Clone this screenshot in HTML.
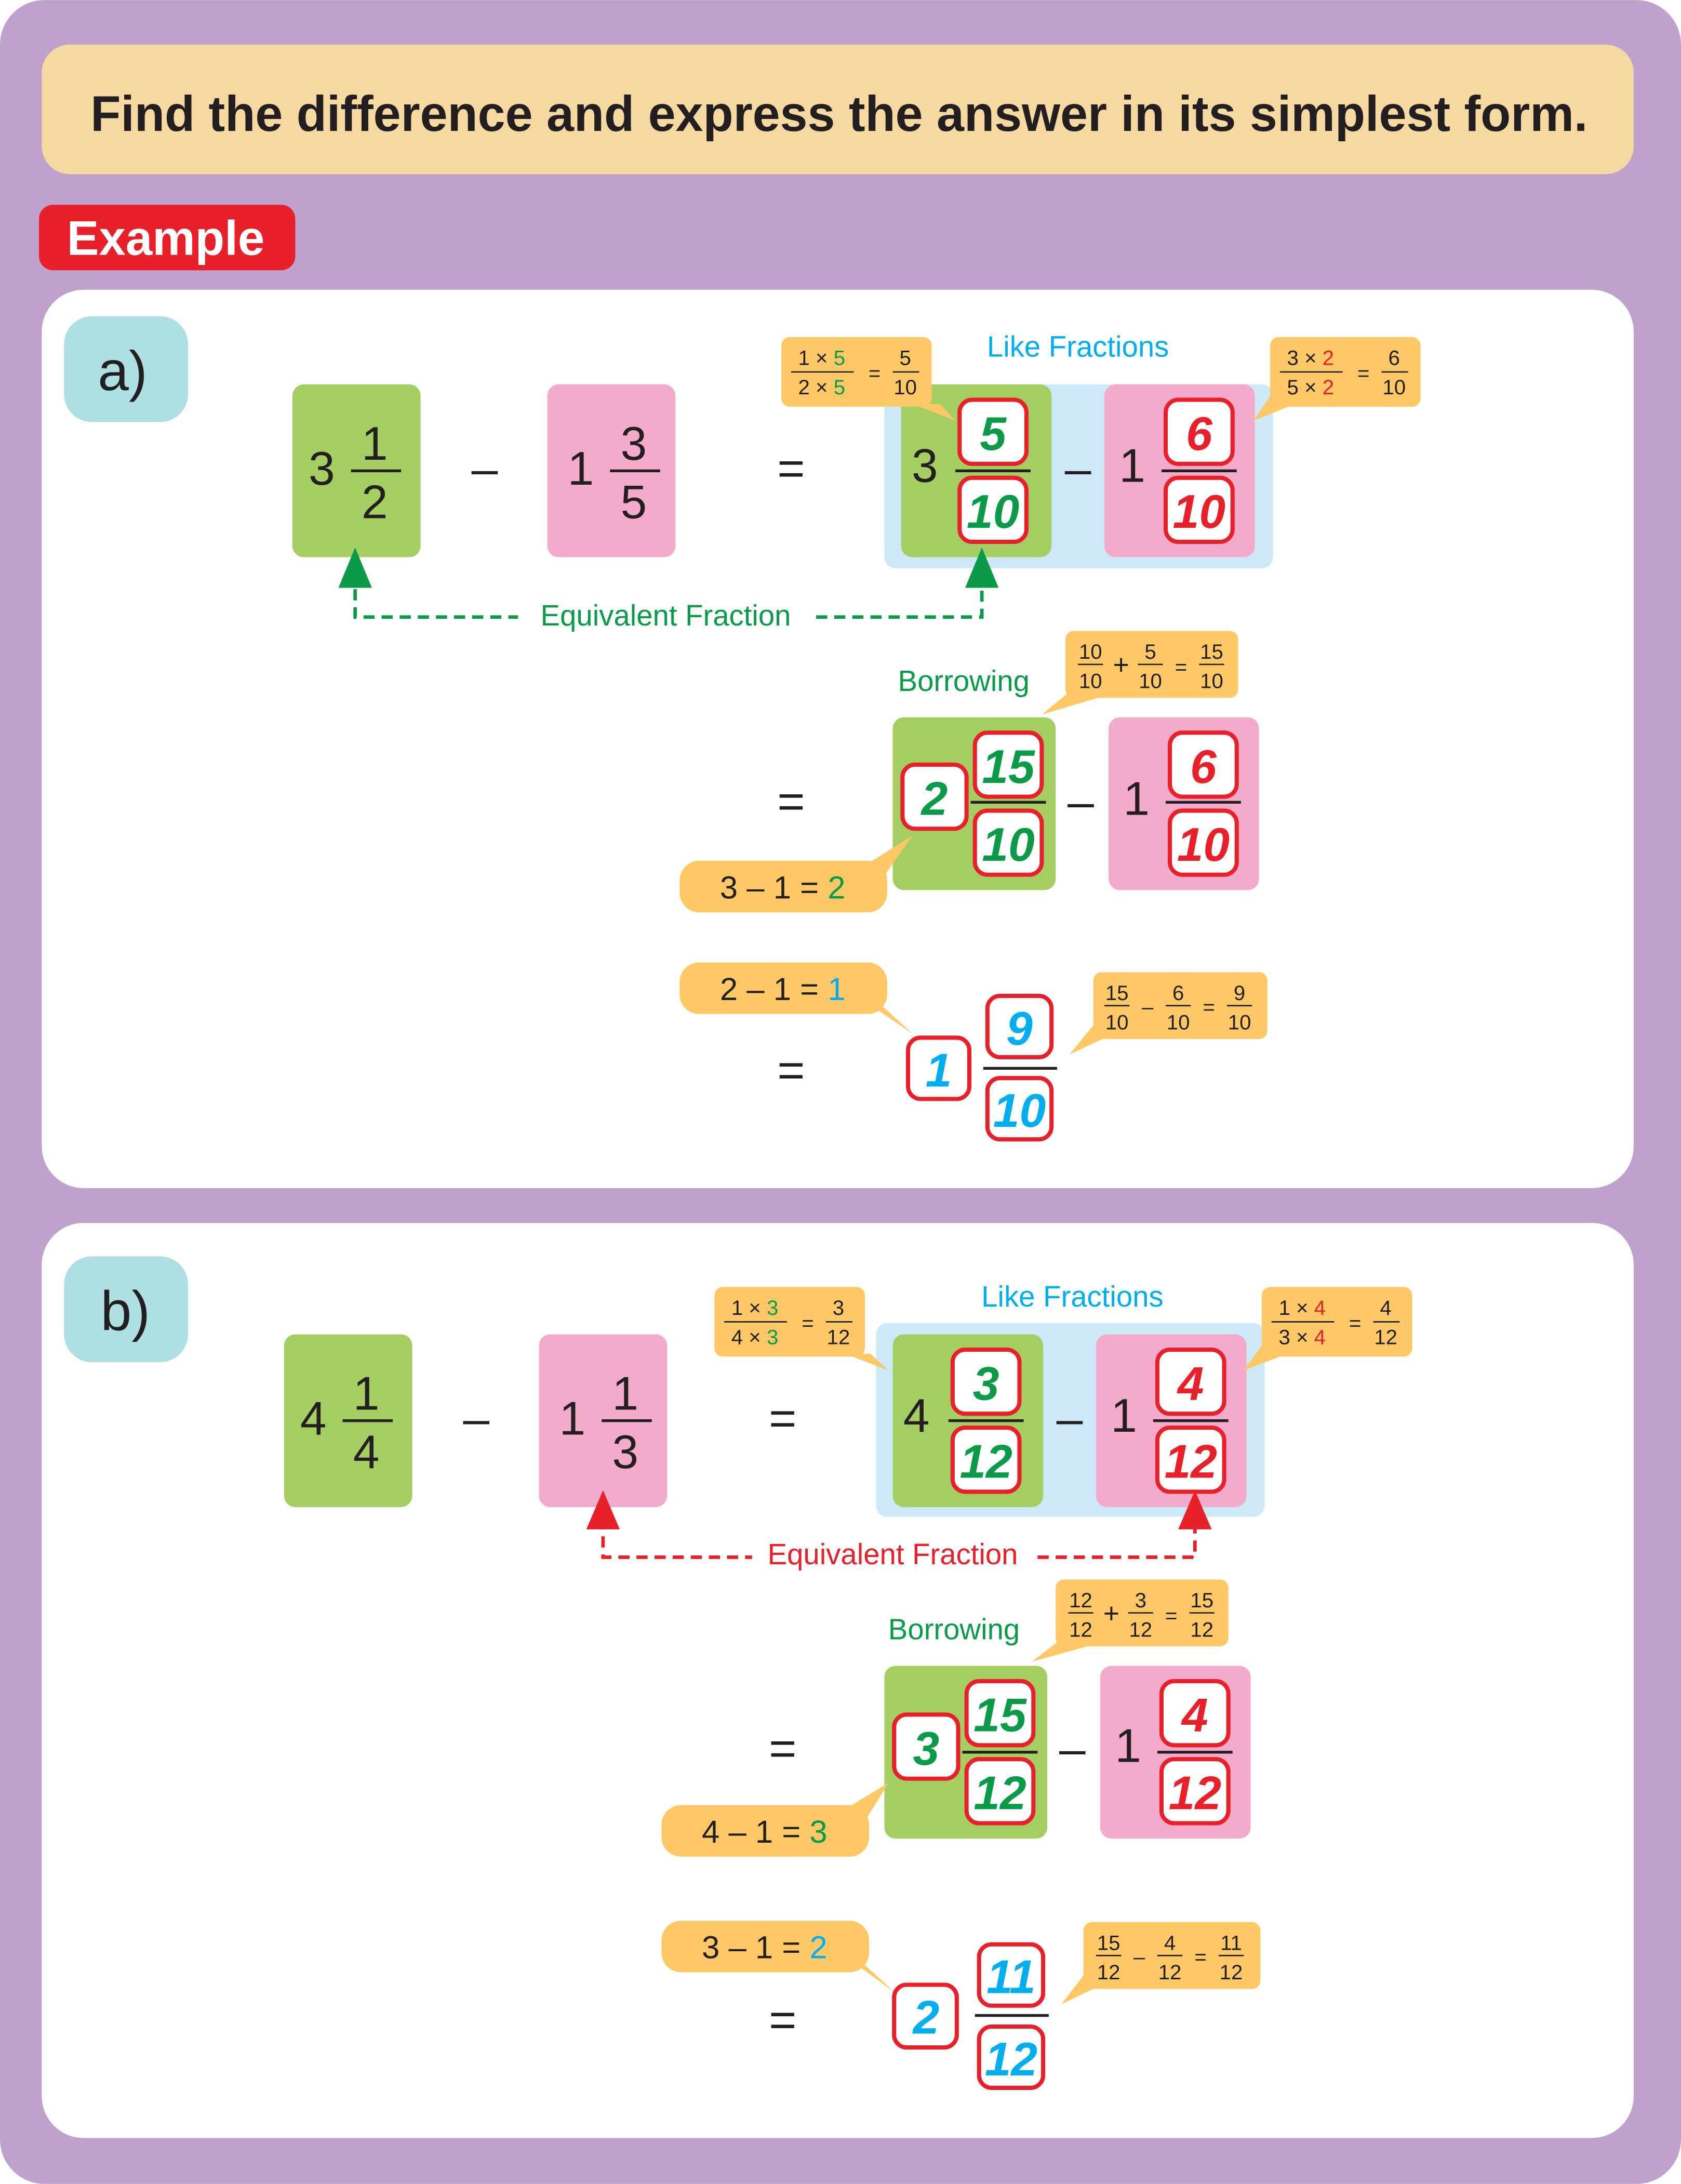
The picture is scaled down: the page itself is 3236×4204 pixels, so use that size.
<!DOCTYPE html>
<html><head><meta charset="utf-8"><style>
html,body{margin:0;padding:0;background:#fff}
svg{display:block}
text{font-family:"Liberation Sans",sans-serif}
.big{font-size:34px;fill:#231f20;text-anchor:middle}
.bx{font-size:34px;font-weight:bold;font-style:italic;text-anchor:middle}
.g{fill:#0a9a48}.r{fill:#e8202a}.c{fill:#00aeef}.k{fill:#231f20}
.sm{font-size:15px;text-anchor:middle;fill:#231f20}
.lbl{font-size:21px;text-anchor:middle}
.cl{font-size:23px;text-anchor:middle;fill:#231f20}
</style></head><body>
<svg width="3236" height="4204" viewBox="0 0 1207 1568" xmlns="http://www.w3.org/2000/svg">
<rect x="0" y="0" width="1207" height="1568" rx="32" fill="#bfa2cc"/>
<rect x="30" y="32" width="1143" height="93" rx="20" fill="#f5d9a0"/>
<text x="65" y="94" font-size="36" font-weight="bold" textLength="1075" lengthAdjust="spacingAndGlyphs" fill="#231f20">Find the difference and express the answer in its simplest form.</text>
<rect x="28" y="147" width="184" height="47" rx="10" fill="#e8202a"/>
<text x="48" y="183" font-size="35" font-weight="bold" textLength="142" lengthAdjust="spacingAndGlyphs" fill="#fff">Example</text>
<rect x="30" y="208" width="1143" height="645" rx="30" fill="#fff"/>
<rect x="30" y="878" width="1143" height="657" rx="30" fill="#fff"/>

<!-- ===== a ===== -->
<rect x="46" y="227" width="89" height="76" rx="20" fill="#aedfe3"/>
<text x="88" y="280" font-size="40" text-anchor="middle" fill="#231f20">a)</text>

<rect x="210" y="276" width="92" height="124" rx="8" fill="#a5ce62"/>
<text x="231" y="348" class="big">3</text>
<text x="269" y="330" class="big">1</text><line x1="252" y1="338" x2="288" y2="338" stroke="#231f20" stroke-width="2"/><text x="269" y="372" class="big">2</text>
<text x="348" y="348" class="big">–</text>
<rect x="393" y="276" width="92" height="124" rx="8" fill="#f4aacb"/>
<text x="417" y="348" class="big">1</text>
<text x="455" y="330" class="big">3</text><line x1="438" y1="338" x2="474" y2="338" stroke="#231f20" stroke-width="2"/><text x="455" y="372" class="big">5</text>
<text x="568" y="348" class="big">=</text>

<rect x="635" y="276" width="279" height="132" rx="8" fill="#cde9f8"/>
<rect x="647" y="276" width="108" height="124" rx="8" fill="#a5ce62"/>
<text x="664" y="346" class="big">3</text>
<rect x="689" y="287" width="48" height="46" rx="9" fill="#fff" stroke="#e8202a" stroke-width="3"/>
<text x="713" y="323" class="bx g">5</text>
<line x1="686" y1="338" x2="740" y2="338" stroke="#231f20" stroke-width="2"/>
<rect x="689" y="343" width="48" height="46" rx="9" fill="#fff" stroke="#e8202a" stroke-width="3"/>
<text x="713" y="379" class="bx g">10</text>
<text x="774" y="348" class="big">–</text>
<rect x="793" y="276" width="108" height="124" rx="8" fill="#f4aacb"/>
<text x="813" y="346" class="big">1</text>
<rect x="837" y="287" width="48" height="46" rx="9" fill="#fff" stroke="#e8202a" stroke-width="3"/>
<text x="861" y="323" class="bx r">6</text>
<line x1="834" y1="338" x2="888" y2="338" stroke="#231f20" stroke-width="2"/>
<rect x="837" y="343" width="48" height="46" rx="9" fill="#fff" stroke="#e8202a" stroke-width="3"/>
<text x="861" y="379" class="bx r">10</text>
<text x="774" y="256" class="lbl c">Like Fractions</text>

<polygon points="655,290 675,290 686,302" fill="#fdc865"/>
<rect x="561" y="242" width="108" height="50" rx="6" fill="#fdc865"/>
<text x="590" y="262" class="sm">1 × <tspan class="g">5</tspan></text><line x1="568" y1="267" x2="613" y2="267" stroke="#231f20"/><text x="590" y="283" class="sm">2 × <tspan class="g">5</tspan></text>
<text x="628" y="273" class="sm">=</text>
<text x="650" y="262" class="sm g">5</text><line x1="641" y1="267" x2="660" y2="267" stroke="#231f20"/><text x="650" y="283" class="sm g">10</text>

<polygon points="915,280 930,290 900,302" fill="#fdc865"/>
<rect x="912" y="242" width="108" height="50" rx="6" fill="#fdc865"/>
<text x="941" y="262" class="sm">3 × <tspan class="r">2</tspan></text><line x1="919" y1="267" x2="964" y2="267" stroke="#231f20"/><text x="941" y="283" class="sm">5 × <tspan class="r">2</tspan></text>
<text x="979" y="273" class="sm">=</text>
<text x="1001" y="262" class="sm r">6</text><line x1="992" y1="267" x2="1011" y2="267" stroke="#231f20"/><text x="1001" y="283" class="sm r">10</text>

<path d="M255,410 V443 H372 M586,443 H705 V410" fill="none" stroke="#0a9a48" stroke-width="2.5" stroke-dasharray="8,5"/>
<polygon points="255,393 243,422 267,422" fill="#0a9a48"/>
<polygon points="705,393 693,422 717,422" fill="#0a9a48"/>
<text x="478" y="449" class="lbl g">Equivalent Fraction</text>

<text x="692" y="496" class="lbl g">Borrowing</text>
<polygon points="770,495 795,499 748,513" fill="#fdc865"/>
<rect x="765" y="453" width="124" height="48" rx="6" fill="#fdc865"/>
<text x="783" y="473" class="sm g">10</text><line x1="774" y1="477" x2="792" y2="477" stroke="#231f20"/><text x="783" y="494" class="sm g">10</text>
<text x="805" y="484" font-size="20" text-anchor="middle" fill="#231f20">+</text>
<text x="826" y="473" class="sm g">5</text><line x1="817" y1="477" x2="835" y2="477" stroke="#231f20"/><text x="826" y="494" class="sm g">10</text>
<text x="848" y="484" class="sm">=</text>
<text x="870" y="473" class="sm g">15</text><line x1="861" y1="477" x2="879" y2="477" stroke="#231f20"/><text x="870" y="494" class="sm g">10</text>

<text x="568" y="587" class="big">=</text>
<rect x="641" y="515" width="117" height="124" rx="8" fill="#a5ce62"/>
<rect x="648" y="549" width="46" height="46" rx="9" fill="#fff" stroke="#e8202a" stroke-width="3"/>
<text x="671" y="585" class="bx g">2</text>
<rect x="700" y="526" width="48" height="46" rx="9" fill="#fff" stroke="#e8202a" stroke-width="3"/>
<text x="724" y="562" class="bx g">15</text>
<line x1="697" y1="576" x2="751" y2="576" stroke="#231f20" stroke-width="2"/>
<rect x="700" y="582" width="48" height="46" rx="9" fill="#fff" stroke="#e8202a" stroke-width="3"/>
<text x="724" y="618" class="bx g">10</text>
<text x="776" y="587" class="big">–</text>
<rect x="796" y="515" width="108" height="124" rx="8" fill="#f4aacb"/>
<text x="816" y="585" class="big">1</text>
<rect x="840" y="526" width="48" height="46" rx="9" fill="#fff" stroke="#e8202a" stroke-width="3"/>
<text x="864" y="562" class="bx r">6</text>
<line x1="837" y1="576" x2="891" y2="576" stroke="#231f20" stroke-width="2"/>
<rect x="840" y="582" width="48" height="46" rx="9" fill="#fff" stroke="#e8202a" stroke-width="3"/>
<text x="864" y="618" class="bx r">10</text>

<polygon points="620,622 630,636 655,600" fill="#fdc865"/>
<rect x="488" y="618" width="149" height="37" rx="14" fill="#fdc865"/>
<text x="562" y="645" class="cl">3 – 1 = <tspan class="g">2</tspan></text>

<polygon points="620,710 630,725 655,742" fill="#fdc865"/>
<rect x="488" y="691" width="149" height="37" rx="14" fill="#fdc865"/>
<text x="562" y="718" class="cl">2 – 1 = <tspan class="c">1</tspan></text>
<text x="568" y="780" class="big">=</text>
<rect x="652" y="745" width="44" height="44" rx="9" fill="#fff" stroke="#e8202a" stroke-width="3"/>
<text x="674" y="780" class="bx c">1</text>
<rect x="709" y="715" width="46" height="44" rx="9" fill="#fff" stroke="#e8202a" stroke-width="3"/>
<text x="732" y="750" class="bx c">9</text>
<line x1="706" y1="767" x2="759" y2="767" stroke="#231f20" stroke-width="2"/>
<rect x="709" y="774" width="46" height="44" rx="9" fill="#fff" stroke="#e8202a" stroke-width="3"/>
<text x="732" y="809" class="bx c">10</text>

<polygon points="790,730 800,742 768,757" fill="#fdc865"/>
<rect x="785" y="698" width="125" height="48" rx="6" fill="#fdc865"/>
<text x="802" y="718" class="sm g">15</text><line x1="793" y1="722" x2="811" y2="722" stroke="#231f20"/><text x="802" y="739" class="sm g">10</text>
<text x="824" y="728" class="sm">–</text>
<text x="846" y="718" class="sm r">6</text><line x1="837" y1="722" x2="855" y2="722" stroke="#231f20"/><text x="846" y="739" class="sm r">10</text>
<text x="868" y="728" class="sm">=</text>
<text x="890" y="718" class="sm c">9</text><line x1="881" y1="722" x2="899" y2="722" stroke="#231f20"/><text x="890" y="739" class="sm c">10</text>

<!-- ===== b ===== -->
<rect x="46" y="902" width="89" height="76" rx="20" fill="#aedfe3"/>
<text x="90" y="955" font-size="40" text-anchor="middle" fill="#231f20">b)</text>

<rect x="204" y="958" width="92" height="124" rx="8" fill="#a5ce62"/>
<text x="225" y="1030" class="big">4</text>
<text x="263" y="1012" class="big">1</text><line x1="246" y1="1020" x2="282" y2="1020" stroke="#231f20" stroke-width="2"/><text x="263" y="1054" class="big">4</text>
<text x="342" y="1030" class="big">–</text>
<rect x="387" y="958" width="92" height="124" rx="8" fill="#f4aacb"/>
<text x="411" y="1030" class="big">1</text>
<text x="449" y="1012" class="big">1</text><line x1="432" y1="1020" x2="468" y2="1020" stroke="#231f20" stroke-width="2"/><text x="449" y="1054" class="big">3</text>
<text x="562" y="1030" class="big">=</text>

<rect x="629" y="950" width="279" height="139" rx="8" fill="#cde9f8"/>
<rect x="641" y="958" width="108" height="124" rx="8" fill="#a5ce62"/>
<text x="658" y="1028" class="big">4</text>
<rect x="684" y="969" width="48" height="46" rx="9" fill="#fff" stroke="#e8202a" stroke-width="3"/>
<text x="708" y="1005" class="bx g">3</text>
<line x1="681" y1="1020" x2="735" y2="1020" stroke="#231f20" stroke-width="2"/>
<rect x="684" y="1025" width="48" height="46" rx="9" fill="#fff" stroke="#e8202a" stroke-width="3"/>
<text x="708" y="1061" class="bx g">12</text>
<text x="768" y="1030" class="big">–</text>
<rect x="787" y="958" width="108" height="124" rx="8" fill="#f4aacb"/>
<text x="807" y="1028" class="big">1</text>
<rect x="831" y="969" width="48" height="46" rx="9" fill="#fff" stroke="#e8202a" stroke-width="3"/>
<text x="855" y="1005" class="bx r">4</text>
<line x1="828" y1="1020" x2="882" y2="1020" stroke="#231f20" stroke-width="2"/>
<rect x="831" y="1025" width="48" height="46" rx="9" fill="#fff" stroke="#e8202a" stroke-width="3"/>
<text x="855" y="1061" class="bx r">12</text>
<text x="770" y="938" class="lbl c">Like Fractions</text>

<polygon points="607,972 625,972 638,984" fill="#fdc865"/>
<rect x="513" y="924" width="108" height="50" rx="6" fill="#fdc865"/>
<text x="542" y="944" class="sm">1 × <tspan class="g">3</tspan></text><line x1="520" y1="949" x2="565" y2="949" stroke="#231f20"/><text x="542" y="965" class="sm">4 × <tspan class="g">3</tspan></text>
<text x="580" y="955" class="sm">=</text>
<text x="602" y="944" class="sm g">3</text><line x1="593" y1="949" x2="612" y2="949" stroke="#231f20"/><text x="602" y="965" class="sm g">12</text>

<polygon points="909,962 924,972 893,984" fill="#fdc865"/>
<rect x="906" y="924" width="108" height="50" rx="6" fill="#fdc865"/>
<text x="935" y="944" class="sm">1 × <tspan class="r">4</tspan></text><line x1="913" y1="949" x2="958" y2="949" stroke="#231f20"/><text x="935" y="965" class="sm">3 × <tspan class="r">4</tspan></text>
<text x="973" y="955" class="sm">=</text>
<text x="995" y="944" class="sm r">4</text><line x1="986" y1="949" x2="1005" y2="949" stroke="#231f20"/><text x="995" y="965" class="sm r">12</text>

<path d="M433,1090 V1118 H540 M745,1118 H858 V1090" fill="none" stroke="#e8202a" stroke-width="2.5" stroke-dasharray="8,5"/>
<polygon points="433,1070 421,1098 445,1098" fill="#e8202a"/>
<polygon points="858,1070 846,1098 870,1098" fill="#e8202a"/>
<text x="641" y="1123" class="lbl r">Equivalent Fraction</text>

<text x="685" y="1177" class="lbl g">Borrowing</text>
<polygon points="763,1176 788,1180 741,1193" fill="#fdc865"/>
<rect x="758" y="1134" width="124" height="48" rx="6" fill="#fdc865"/>
<text x="776" y="1154" class="sm g">12</text><line x1="767" y1="1158" x2="785" y2="1158" stroke="#231f20"/><text x="776" y="1175" class="sm g">12</text>
<text x="798" y="1165" font-size="20" text-anchor="middle" fill="#231f20">+</text>
<text x="819" y="1154" class="sm g">3</text><line x1="810" y1="1158" x2="828" y2="1158" stroke="#231f20"/><text x="819" y="1175" class="sm g">12</text>
<text x="841" y="1165" class="sm">=</text>
<text x="863" y="1154" class="sm g">15</text><line x1="854" y1="1158" x2="872" y2="1158" stroke="#231f20"/><text x="863" y="1175" class="sm g">12</text>

<text x="562" y="1267" class="big">=</text>
<rect x="635" y="1196" width="117" height="124" rx="8" fill="#a5ce62"/>
<rect x="642" y="1231" width="46" height="46" rx="9" fill="#fff" stroke="#e8202a" stroke-width="3"/>
<text x="665" y="1267" class="bx g">3</text>
<rect x="694" y="1207" width="48" height="46" rx="9" fill="#fff" stroke="#e8202a" stroke-width="3"/>
<text x="718" y="1243" class="bx g">15</text>
<line x1="691" y1="1258" x2="745" y2="1258" stroke="#231f20" stroke-width="2"/>
<rect x="694" y="1263" width="48" height="46" rx="9" fill="#fff" stroke="#e8202a" stroke-width="3"/>
<text x="718" y="1299" class="bx g">12</text>
<text x="770" y="1267" class="big">–</text>
<rect x="790" y="1196" width="108" height="124" rx="8" fill="#f4aacb"/>
<text x="810" y="1265" class="big">1</text>
<rect x="834" y="1207" width="48" height="46" rx="9" fill="#fff" stroke="#e8202a" stroke-width="3"/>
<text x="858" y="1243" class="bx r">4</text>
<line x1="831" y1="1258" x2="885" y2="1258" stroke="#231f20" stroke-width="2"/>
<rect x="834" y="1263" width="48" height="46" rx="9" fill="#fff" stroke="#e8202a" stroke-width="3"/>
<text x="858" y="1299" class="bx r">12</text>

<polygon points="605,1300 617,1314 638,1280" fill="#fdc865"/>
<rect x="475" y="1296" width="149" height="37" rx="14" fill="#fdc865"/>
<text x="549" y="1323" class="cl">4 – 1 = <tspan class="g">3</tspan></text>

<polygon points="607,1398 617,1412 642,1430" fill="#fdc865"/>
<rect x="475" y="1379" width="149" height="37" rx="14" fill="#fdc865"/>
<text x="549" y="1406" class="cl">3 – 1 = <tspan class="c">2</tspan></text>
<text x="562" y="1462" class="big">=</text>
<rect x="642" y="1425" width="45" height="45" rx="9" fill="#fff" stroke="#e8202a" stroke-width="3"/>
<text x="665" y="1460" class="bx c">2</text>
<rect x="703" y="1396" width="46" height="44" rx="9" fill="#fff" stroke="#e8202a" stroke-width="3"/>
<text x="726" y="1431" class="bx c">11</text>
<line x1="700" y1="1447" x2="753" y2="1447" stroke="#231f20" stroke-width="2"/>
<rect x="703" y="1455" width="46" height="44" rx="9" fill="#fff" stroke="#e8202a" stroke-width="3"/>
<text x="726" y="1490" class="bx c">12</text>

<polygon points="783,1412 793,1424 762,1439" fill="#fdc865"/>
<rect x="778" y="1380" width="127" height="48" rx="6" fill="#fdc865"/>
<text x="796" y="1400" class="sm g">15</text><line x1="787" y1="1404" x2="805" y2="1404" stroke="#231f20"/><text x="796" y="1421" class="sm g">12</text>
<text x="818" y="1410" class="sm">–</text>
<text x="840" y="1400" class="sm r">4</text><line x1="831" y1="1404" x2="849" y2="1404" stroke="#231f20"/><text x="840" y="1421" class="sm r">12</text>
<text x="862" y="1410" class="sm">=</text>
<text x="884" y="1400" class="sm c">11</text><line x1="875" y1="1404" x2="893" y2="1404" stroke="#231f20"/><text x="884" y="1421" class="sm c">12</text>
</svg>
</body></html>
